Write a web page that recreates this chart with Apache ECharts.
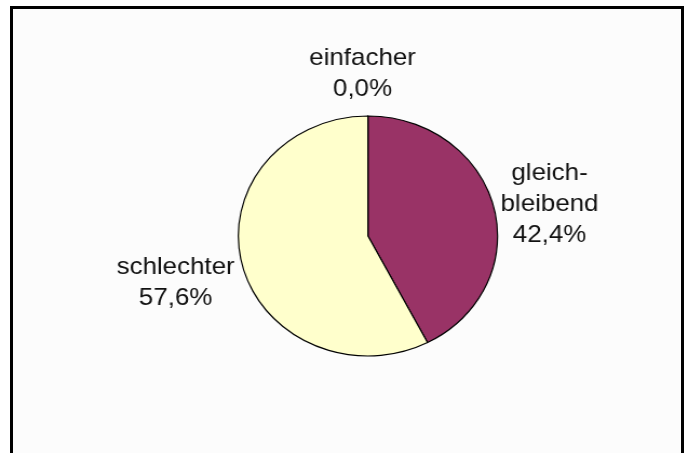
<!DOCTYPE html>
<html>
<head>
<meta charset="utf-8">
<script src="https://cdn.jsdelivr.net/npm/echarts@6/dist/echarts.min.js"></script>
<style>
  html, body { margin: 0; padding: 0; background: #ffffff; }
  #frame { position: absolute; left: 10px; top: 6px; width: 668px; height: 470px;
           border: 3px solid #000; border-bottom: none; background: #fcfcfc; box-sizing: content-box; }
  #chart { position: absolute; left: 0; top: 0; width: 639px; height: 453px;
           transform: scaleX(1.08); transform-origin: 0 0; }
</style>
</head>
<body>
<div id="frame"></div>
<div id="chart"></div>
<script>
const categories = ['einfacher', 'gleich-\nbleibend', 'schlechter'];
const values = [0.0, 42.4, 57.6];
const colors = ['#ffffcc', '#993366', '#ffffcc'];

// label placement tweaks (style only)
const labelLengths = [40, 52, 52];
const labelShift = [[0, -2], [-4, 9], [-6, 6]];

const fmt = v => v.toFixed(1).replace('.', ',') + '%';

const chart = echarts.init(document.getElementById('chart'), null, { renderer: 'canvas' });
chart.setOption({
  backgroundColor: 'transparent',
  animation: false,
  series: [{
    type: 'pie',
    center: [340.7, 236],
    radius: [0, 120],
    startAngle: 90,
    clockwise: true,
    avoidLabelOverlap: false,
    minShowLabelAngle: 0,
    itemStyle: { borderColor: '#000', borderWidth: 1.2 },
    emphasis: { disabled: true },
    label: {
      show: true,
      position: 'outside',
      fontFamily: 'Liberation Sans, Arial, sans-serif',
      fontSize: 24,
      lineHeight: 31,
      color: '#111',
      formatter: p => p.name + '\n' + fmt(p.value)
    },
    labelLine: { show: false, length: 50, length2: 0 },
    labelLayout: p => ({
      align: 'center',
      verticalAlign: 'middle',
      dx: labelShift[p.dataIndex][0],
      dy: labelShift[p.dataIndex][1]
    }),
    data: categories.map((c, i) => ({
      name: c,
      value: values[i],
      itemStyle: { color: colors[i] },
      labelLine: { length: labelLengths[i], length2: 0 }
    }))
  }]
});
</script>
</body>
</html>
